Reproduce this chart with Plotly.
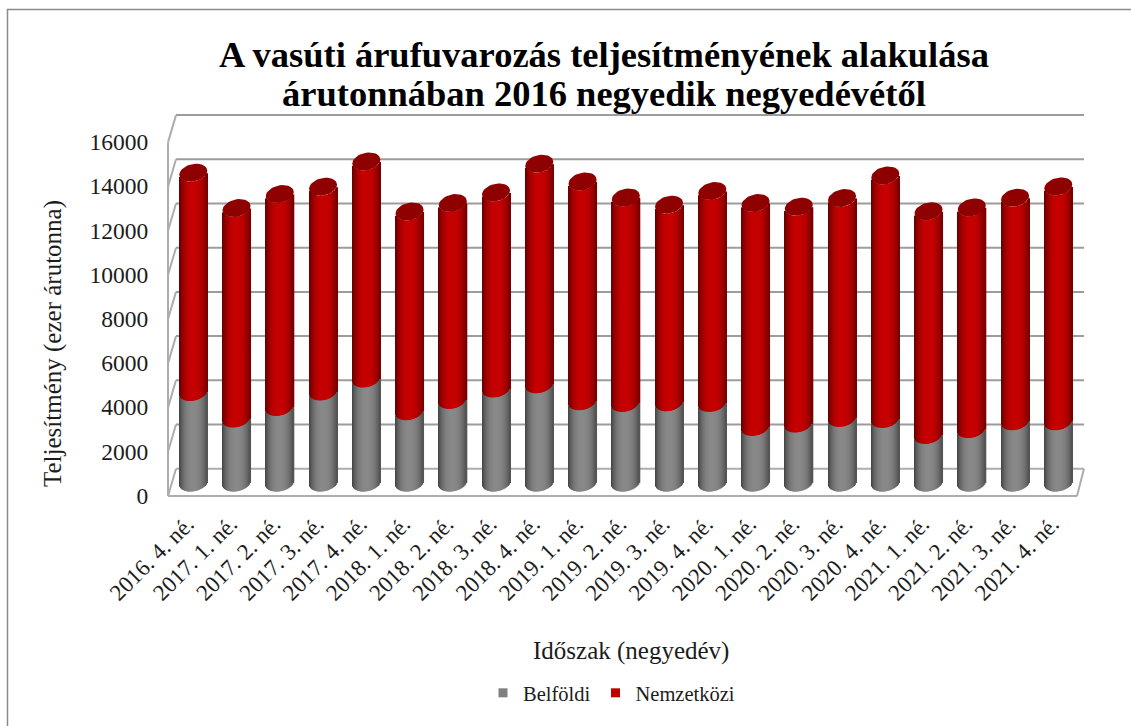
import plotly.graph_objects as go
import math

categories = ["2016. 4. né.", "2017. 1. né.", "2017. 2. né.", "2017. 3. né.", "2017. 4. né.",
              "2018. 1. né.", "2018. 2. né.", "2018. 3. né.", "2018. 4. né.",
              "2019. 1. né.", "2019. 2. né.", "2019. 3. né.", "2019. 4. né.",
              "2020. 1. né.", "2020. 2. né.", "2020. 3. né.", "2020. 4. né.",
              "2021. 1. né.", "2021. 2. né.", "2021. 3. né.", "2021. 4. né."]
belfoldi = [4095, 2896, 3421, 4118, 4706, 3226, 3738, 4253, 4448, 3679, 3602,
            3633, 3602, 2516, 2670, 2923, 2878, 2154, 2418, 2774, 2774]
nemzetkozi = [9919, 9520, 9629, 9262, 9819, 9036, 8905, 8869, 9973, 9941, 9294,
              8933, 9584, 10127, 9805, 9946, 11013, 10116, 10028, 10108, 10620]
y_ticks = [0, 2000, 4000, 6000, 8000, 10000, 12000, 14000, 16000]
title_lines = ["A vasúti árufuvarozás teljesítményének alakulása",
               "árutonnában 2016 negyedik negyedévétől"]

W, H = 1131, 726
L, R, T, B = 160, 1090, 100, 505      # plot area in page pixels
X0_PX, STEP_PX = 193.3, 43.25         # first bar centre, bar spacing
Y0_PX, PX_PER_UNIT = 482.5, 44.2 / 2000

FONT = "Liberation Serif"
INK = "#1c1c1c"
GRID = "#9c9c9c"
EDGE = "#adadad"

def dx(px): return px / STEP_PX
def dy(px): return px / PX_PER_UNIT
def xp(px): return (px - X0_PX) / STEP_PX
def paper_x(px): return (px - L) / (R - L)
def paper_y(px): return (B - px) / (B - T)

x_range = [xp(L), xp(R)]
y_range = [(Y0_PX - B) / PX_PER_UNIT, (Y0_PX - T) / PX_PER_UNIT]

# cylinder look
HALF_W, B_PX, TILT_PX = 14.0, 8.8, 2.0
N = 28
idx = list(range(len(categories)))
totals = [a + b for a, b in zip(belfoldi, nemzetkozi)]

def shade(rgb, u):
    f = 1 - (0.52 if u < 0 else 0.42) * abs(u) ** 2.4
    return "rgb(%d,%d,%d)" % tuple(round(c * f) for c in rgb)

GRAY, RED = (136, 136, 136), (198, 0, 0)
fig = go.Figure()

for k in range(N):
    u = -1 + (2 * k + 1) / N
    arc = dy(-B_PX * math.sqrt(1 - u * u) + TILT_PX * u)
    left = dx(u * HALF_W - HALF_W / N)
    width = dx(2 * HALF_W / N * 1.5)
    fig.add_trace(go.Bar(x=idx, base=[arc] * len(idx), y=belfoldi, offset=left, width=width,
                         marker=dict(color=shade(GRAY, u), line_width=0),
                         showlegend=False, hoverinfo="skip"))
    fig.add_trace(go.Bar(x=idx, base=[b + arc for b in belfoldi], y=nemzetkozi, offset=left, width=width,
                         marker=dict(color=shade(RED, u), line_width=0),
                         showlegend=False, hoverinfo="skip"))

# elliptical tops
cap_x, cap_y = [], []
for i, t in zip(idx, totals):
    for s in range(41):
        a = 2 * math.pi * s / 40
        cap_x.append(i + dx(HALF_W * math.cos(a)))
        cap_y.append(t + dy(B_PX * math.sin(a) + TILT_PX * math.cos(a)))
    cap_x.append(None)
    cap_y.append(None)
fig.add_trace(go.Scatter(x=cap_x, y=cap_y, mode="lines", fill="toself", fillcolor="#8f0000",
                         line=dict(width=0, color="#8f0000"), showlegend=False, hoverinfo="skip"))

# legend entries
fig.add_trace(go.Scatter(x=[None], y=[None], mode="markers", name="Belföldi",
                         marker=dict(symbol="square", size=9, color="#808080")))
fig.add_trace(go.Scatter(x=[None], y=[None], mode="markers", name="Nemzetközi",
                         marker=dict(symbol="square", size=9, color="#c00000")))

# 3D walls drawn in the axis' own units
FRONT, BACK = dy(-13.5), dy(13.8)
x_fl, x_bl, x_fr, x_br = xp(168), xp(176), xp(1077), xp(1084)
shapes = []
def seg(x0, y0, x1, y1, color, w=2):
    shapes.append(dict(type="line", xref="x", yref="y", x0=x0, y0=y0, x1=x1, y1=y1,
                       layer="below", line=dict(color=color, width=w)))
for t in y_ticks:
    seg(x_bl, t + BACK, x_br, t + BACK, EDGE if t == 0 else GRID)
    seg(x_fl, t + FRONT, x_bl, t + BACK, EDGE)
seg(x_fl, FRONT, x_fl, 16000 + FRONT, EDGE)
seg(x_fl, FRONT, x_fr, FRONT, EDGE)
seg(x_fr, FRONT, x_br, BACK, EDGE)

# outer frame (its right and bottom sides fall outside the page)
shapes.append(dict(type="rect", xref="paper", yref="paper",
                   x0=paper_x(7.5), x1=paper_x(W + 20), y0=paper_y(H + 20), y1=paper_y(9.5),
                   layer="below", line=dict(color="#8a8a8a", width=1.5), fillcolor="rgba(0,0,0,0)"))

LABEL_SHIFT = dy(-13.0)
XLABEL_SHIFT = dx(-6)
fig.update_layout(
    width=W, height=H, autosize=False,
    margin=dict(l=L, r=W - R, t=T, b=H - B),
    paper_bgcolor="white", plot_bgcolor="rgba(0,0,0,0)",
    barmode="overlay", shapes=shapes,
    font=dict(family=FONT, color=INK),
    xaxis=dict(range=x_range, tickmode="array", tickvals=[i + XLABEL_SHIFT for i in idx],
               ticktext=categories, tickangle=-45,
               showgrid=False, zeroline=False, showline=False, ticks="", ticklen=0,
               tickfont=dict(family=FONT, size=23, color=INK)),
    yaxis=dict(range=y_range, tickmode="array", tickvals=[t + LABEL_SHIFT for t in y_ticks],
               ticktext=[str(t) for t in y_ticks], showgrid=False, zeroline=False, showline=False,
               ticks="outside", ticklen=6, tickcolor="rgba(0,0,0,0)",
               tickfont=dict(family=FONT, size=23.5, color=INK)),
    legend=dict(orientation="h", x=paper_x(483), xanchor="left", y=paper_y(693), yanchor="middle",
                font=dict(family=FONT, size=20.5, color=INK), bgcolor="rgba(0,0,0,0)"),
    annotations=[
        dict(text=title_lines[0], xref="paper", yref="paper", x=paper_x(604), y=paper_y(55),
             xanchor="center", yanchor="middle", showarrow=False,
             font=dict(family=FONT, size=36.5, color="#000000", weight="bold")),
        dict(text=title_lines[1], xref="paper", yref="paper", x=paper_x(604), y=paper_y(93),
             xanchor="center", yanchor="middle", showarrow=False,
             font=dict(family=FONT, size=36.5, color="#000000", weight="bold")),
        dict(text="Időszak (negyedév)", xref="paper", yref="paper", x=paper_x(631), y=paper_y(651),
             xanchor="center", yanchor="middle", showarrow=False, font=dict(family=FONT, size=25, color=INK)),
        dict(text="Teljesítmény (ezer árutonna)", xref="paper", yref="paper", x=paper_x(53), y=paper_y(344),
             xanchor="center", yanchor="middle", textangle=-90, showarrow=False,
             font=dict(family=FONT, size=25, color=INK)),
    ],
)
fig.write_html("out.html", config=dict(displayModeBar=False),
               post_script="document.body.style.margin='0';")
